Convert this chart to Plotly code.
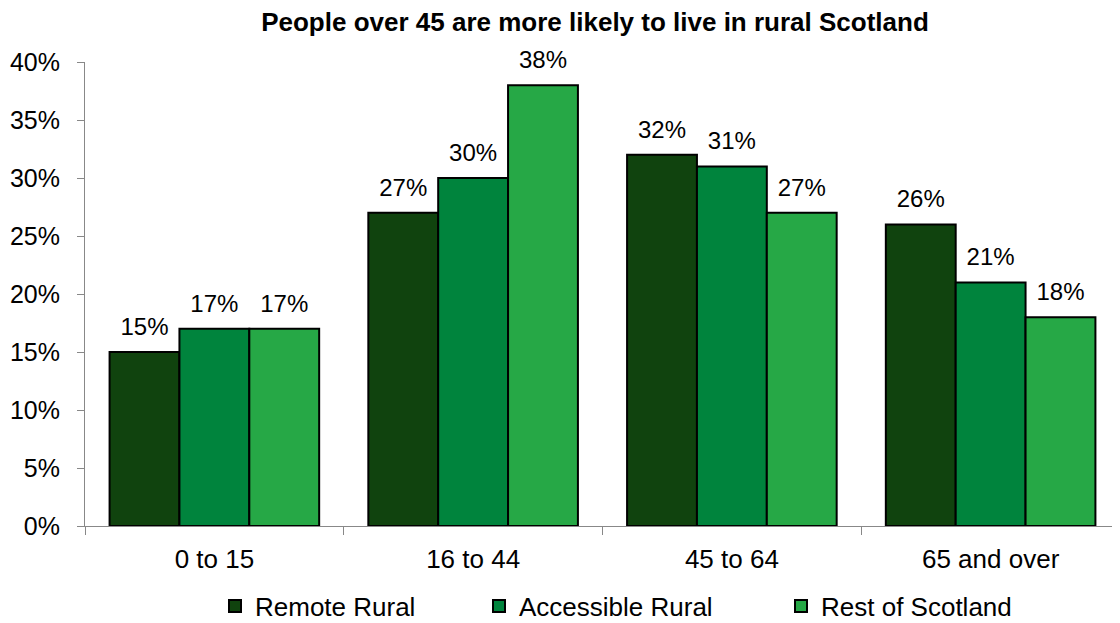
import plotly.graph_objects as go

categories = ["0 to 15", "16 to 44", "45 to 64", "65 and over"]
series_names = ["Remote Rural", "Accessible Rural", "Rest of Scotland"]
remote_rural = [15, 27, 32, 26]
accessible_rural = [17, 30, 31, 21]
rest_of_scotland = [17, 38, 27, 18]
y_ticks = [0, 5, 10, 15, 20, 25, 30, 35, 40]
colors = ["#10430E", "#00843D", "#26A846"]
legend_x = [207, 471, 773]  # legend item left positions (px)

W, H = 1120, 623
FONT = "Liberation Sans, Arial, sans-serif"
fig = go.Figure()
legend_keys = ["legend", "legend2", "legend3"]
for i, (name, vals, col) in enumerate(zip(series_names, [remote_rural, accessible_rural, rest_of_scotland], colors)):
    fig.add_trace(go.Bar(
        name=name, x=categories, y=vals, offsetgroup=str(i),
        marker=dict(color=col, line=dict(color="black", width=2)),
        legend=legend_keys[i],
    ))
for i, vals in enumerate([remote_rural, accessible_rural, rest_of_scotland]):
    fig.add_trace(go.Scatter(
        x=categories, y=vals, offsetgroup=str(i), mode="markers+text",
        marker=dict(size=16, opacity=0), text=[f"{v}%" for v in vals],
        textposition="top center", showlegend=False, hoverinfo="skip",
        textfont=dict(family=FONT, size=24, color="black"), cliponaxis=False,
    ))

layout_legends = {}
for i, key in enumerate(legend_keys):
    layout_legends[key] = dict(
        xref="container", yref="container", x=legend_x[i] / W, xanchor="left",
        y=1 - 598 / H, yanchor="middle", orientation="h",
        font=dict(family=FONT, size=26, color="black"), bgcolor="rgba(0,0,0,0)",
    )

fig.update_layout(
    barmode="group", bargap=0.19, bargroupgap=0,
    scattermode="group", scattergap=0.19,
    width=W, height=H,
    margin=dict(l=77, r=8, t=54, b=105, autoexpand=False),
    paper_bgcolor="white", plot_bgcolor="white",
    font=dict(family=FONT, size=24, color="black"),
    title=dict(text="<b>People over 45 are more likely to live in rural Scotland</b>",
               xref="container", yref="container",
               x=587 / W, xanchor="center", y=1.0, yanchor="top",
               pad=dict(t=5, b=0, l=0, r=0),
               font=dict(family=FONT, size=26, color="black")),
    showlegend=True,
    **layout_legends,
)
fig.update_yaxes(range=[0, 40], tickvals=y_ticks, ticktext=[f"{v}%" for v in y_ticks],
                 showgrid=False, showline=True, linecolor="#888888", linewidth=1,
                 ticks="outside", ticklen=7, tickcolor="#888888", ticklabelstandoff=12,
                 zeroline=False, tickfont=dict(family=FONT, size=25), automargin=False)
fig.update_xaxes(showgrid=False, showline=True, linecolor="#888888", linewidth=1,
                 ticks="outside", ticklen=8, tickcolor="#888888", tickson="boundaries",
                 ticklabelstandoff=10, tickfont=dict(family=FONT, size=26), automargin=False)

fig.write_html("out.html")
